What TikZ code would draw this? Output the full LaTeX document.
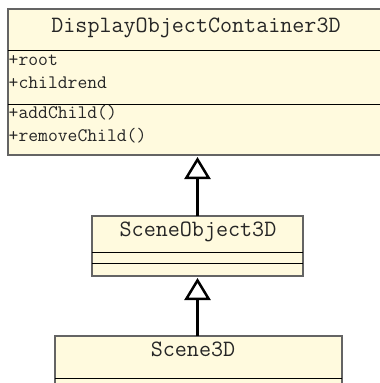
\documentclass[tikz,border=0pt]{standalone}
\usepackage{fontspec}
\usetikzlibrary{arrows.meta}
\definecolor{classfill}{RGB}{255,250,222}
\definecolor{classborder}{RGB}{100,100,100}
\tikzset{
  classbox/.style={draw=classborder, line width=1.2pt, fill=classfill, inner sep=0pt, outer sep=0pt},
  sepline/.style={draw=black, line width=0.9pt},
  titletext/.style={font=\ttfamily\fontsize{23.4}{26}\selectfont, text=black!85, inner sep=0pt, anchor=base},
  membertext/.style={font=\ttfamily\fontsize{19.1}{22}\selectfont, text=black!85, inner sep=0pt, anchor=base west},
  inherit/.style={draw=black, line width=2.5pt, -{Triangle[open, length=22pt, width=26pt, fill=white]}}
}
\begin{document}
\begin{tikzpicture}[x=1pt, y=-1pt]
\useasboundingbox (0,0) rectangle (380,383);
\clip (0,0) rectangle (380,383);
% DisplayObjectContainer3D
\node[classbox, minimum width=378pt, minimum height=146pt] (doc) at (197,82) {};
\draw[sepline] (8,50) -- (386,50);
\draw[sepline] (8,104) -- (386,104);
\node[titletext] (doctitle) at (196,32) {DisplayObjectContainer3D};
\node[membertext] (root) at (8.5,65) {+root};
\node[membertext] (childrend) at (8.5,88) {+childrend};
\node[membertext] (addchild) at (8.5,118) {+addChild()};
\node[membertext] (removechild) at (8.5,141) {+removeChild()};
% SceneObject3D
\node[classbox, minimum width=211pt, minimum height=60pt] (so) at (197.5,246) {};
\draw[sepline] (92,252) -- (303,252);
\draw[sepline] (92,263) -- (303,263);
\node[titletext] (sotitle) at (198,236) {SceneObject3D};
% Scene3D
\node[classbox, minimum width=287pt, minimum height=80pt] (sc) at (198.5,376) {};
\draw[sepline] (55,378) -- (342,378);
\node[titletext] (sctitle) at (193,356) {Scene3D};
% inheritance
\draw[inherit] (so.north) -- ([yshift=-2pt]so.north |- doc.south);
\draw[inherit] (sc.north -| so.north) -- ([yshift=-2pt]so.south);
\end{tikzpicture}
\end{document}
